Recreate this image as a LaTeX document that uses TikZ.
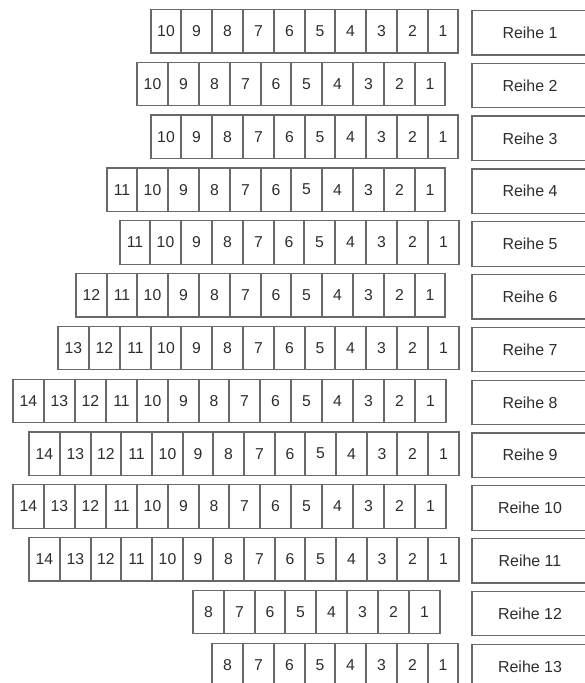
\documentclass[tikz,border=0pt]{standalone}
\usepackage{fontspec}
\setmainfont{Liberation Sans}
\definecolor{linegray}{RGB}{105,105,105}
\definecolor{textgray}{RGB}{45,45,45}
\begin{document}
\begin{tikzpicture}[x=1bp,y=-1bp,
  seat/.style={draw=linegray, line width=1.2bp, minimum height=43.5bp, inner sep=0pt, outer sep=0pt,
    anchor=north west, font=\fontsize{15.8}{18}\selectfont, text=textgray},
  rowlabel/.style={draw=linegray, line width=1.2bp, minimum height=44.5bp, minimum width=116bp,
    inner sep=0pt, outer sep=0pt, anchor=north west, font=\fontsize{16}{18}\selectfont, text=textgray}]
\useasboundingbox (0,0) rectangle (585,683);
\clip (0,0) rectangle (585,683);
\foreach \rr/\lx/\rx/\nc in {1/150.7/458.3/10, 2/137.3/445.3/10, 3/150.7/458.3/10,
  4/106.7/445.3/11, 5/119.5/458.5/11, 6/75.7/445.3/12, 7/58.3/458.5/13,
  8/13.3/445.5/14, 9/29.3/458.5/14, 10/13.3/445.5/14, 11/29.3/458.5/14,
  12/192.7/440.0/8, 13/212.3/458.3/8} {
  \pgfmathsetmacro\cw{(\rx-\lx)/\nc}
  \pgfmathsetmacro\ty{9.5+(\rr-1)*52.8}
  \foreach \k in {1,...,\nc} {
    \pgfmathsetmacro\xl{round(\rx-\k*\cw)}
    \pgfmathsetmacro\xr{round(\rx-(\k-1)*\cw)}
    \pgfmathsetmacro\cellw{\xr-\xl}
    \node[seat, minimum width=\cellw bp] (r\rr c\k) at (\xl, \ty) {\k};
  }
  \node[rowlabel] (l\rr) at (472, \ty+1) {Reihe \rr};
}
\end{tikzpicture}
\end{document}
